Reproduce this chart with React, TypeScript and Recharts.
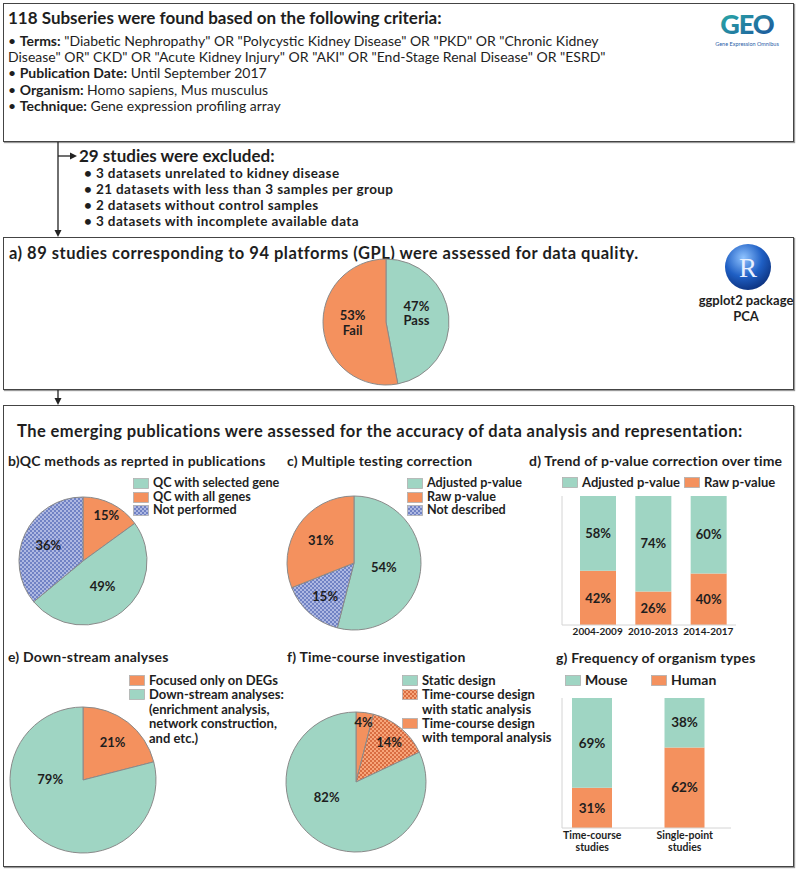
import React from 'react';
import { PieChart, Pie, Cell, BarChart, Bar, XAxis, YAxis, LabelList } from 'recharts';

const TEAL = '#9fd5c3';
const ORANGE = '#f4915e';
const INK = '#1e1e1e';
const FONT = 'Lato, "Open Sans", sans-serif';

// a) data quality
const qualityNames = ['Pass', 'Fail'];
const qualityValues = [47, 53];

// b) QC methods
const qcNames = ['QC with all genes', 'QC with selected gene', 'Not performed'];
const qcValues = [15, 49, 36];

// c) multiple testing correction
const mtNames = ['Adjusted p-value', 'Not described', 'Raw p-value'];
const mtValues = [54, 15, 31];

// d) trend over time
const periods = ['2004-2009', '2010-2013', '2014-2017'];
const adjustedShare = [58, 74, 60];
const rawShare = [42, 26, 40];

// e) down-stream analyses
const downNames = ['Focused only on DEGs', 'Down-stream analyses'];
const downValues = [21, 79];

// f) time-course
const timeNames = ['Time-course design with temporal analysis', 'Time-course design with static analysis', 'Static design'];
const timeValues = [4, 14, 82];

// g) organism types
const studyTypes = ['Time-course studies', 'Single-point studies'];
const humanShare = [31, 62];
const mouseShare = [69, 38];

const fillFor: Record<string, string> = {
  Pass: TEAL,
  Fail: ORANGE,
  'QC with all genes': ORANGE,
  'QC with selected gene': TEAL,
  'Not performed': 'url(#hatchBlue)',
  'Adjusted p-value': TEAL,
  'Not described': 'url(#hatchBlue)',
  'Raw p-value': ORANGE,
  'Focused only on DEGs': ORANGE,
  'Down-stream analyses': TEAL,
  'Time-course design with temporal analysis': ORANGE,
  'Time-course design with static analysis': 'url(#dotOrange)',
  'Static design': TEAL,
};

type Spot = { r: number; angle?: number };

const T = ({ x, y, size = 13, bold = false, center = false, ls = 0, children }: any) => (
  <div
    style={{
      position: 'absolute',
      left: x,
      top: y - size * 0.62,
      fontSize: size,
      lineHeight: `${size * 1.24}px`,
      fontWeight: bold ? 700 : 400,
      letterSpacing: ls,
      whiteSpace: 'nowrap',
      color: INK,
      transform: center ? 'translateX(-50%)' : undefined,
    }}
  >
    {children}
  </div>
);

const PieBlock = ({ cx, cy, radius, names, values, spots, size = 13, withName = false }: any) => {
  const box = radius * 2 + 8;
  const data = names.map((n: string, i: number) => ({ name: n, value: values[i] }));
  const renderLabel = (p: any) => {
    const s: Spot = spots[p.index];
    const ang = s.angle !== undefined ? 90 - s.angle : p.midAngle;
    const rad = Math.PI / 180;
    const lx = p.cx + p.outerRadius * s.r * Math.cos(-ang * rad);
    const ly = p.cy + p.outerRadius * s.r * Math.sin(-ang * rad);
    if (withName) {
      return (
        <text x={lx} y={ly} textAnchor="middle" fill={INK} fontSize={size} fontWeight={700} fontFamily={FONT}>
          <tspan x={lx} dy={-3}>{`${p.value}%`}</tspan>
          <tspan x={lx} dy={size + 1.5}>{p.name}</tspan>
        </text>
      );
    }
    return (
      <text x={lx} y={ly} textAnchor="middle" dominantBaseline="central" fill={INK} fontSize={size} fontWeight={700} fontFamily={FONT}>
        {`${p.value}%`}
      </text>
    );
  };
  return (
    <div style={{ position: 'absolute', left: cx - box / 2, top: cy - box / 2 }}>
      <PieChart width={box} height={box} margin={{ top: 0, right: 0, bottom: 0, left: 0 }}>
        <Pie
          data={data}
          dataKey="value"
          cx="50%"
          cy="50%"
          outerRadius={radius}
          startAngle={90}
          endAngle={-270}
          stroke="#8a8a8a"
          strokeWidth={1}
          labelLine={false}
          label={renderLabel}
          isAnimationActive={false}
        >
          {data.map((d: any) => (
            <Cell key={d.name} fill={fillFor[d.name]} />
          ))}
        </Pie>
      </PieChart>
    </div>
  );
};

const Swatch = ({ fill, w = 16, h = 11 }: any) => (
  <svg width={w} height={h} style={{ position: 'absolute', left: 0, top: 2 }}>
    <rect x={0.5} y={0.5} width={w - 1} height={h - 1} fill={fill} stroke="#b0b0b0" strokeWidth={0.8} />
  </svg>
);

const LegendRows = ({ x, y, rows, size = 13, gap = 14, indent = 20 }: any) => (
  <div style={{ position: 'absolute', left: x, top: y - gap / 2 }}>
    {rows.map((r: any, i: number) => (
      <div
        key={i}
        style={{
          position: 'relative',
          height: gap,
          lineHeight: `${gap}px`,
          fontSize: size,
          fontWeight: 700,
          paddingLeft: indent,
          whiteSpace: 'nowrap',
          color: INK,
        }}
      >
        {r.fill ? <Swatch fill={r.fill} /> : null}
        {r.text}
      </div>
    ))}
  </div>
);

const twoLineTick = (props: any) => {
  const { x, y, payload } = props;
  const parts = String(payload.value).split(' ');
  return (
    <g>
      <text x={x} y={y + 9} textAnchor="middle" fill={INK} fontSize={10.5} fontWeight={700} fontFamily={FONT}>
        {parts[0]}
      </text>
      <text x={x} y={y + 21} textAnchor="middle" fill={INK} fontSize={10.5} fontWeight={700} fontFamily={FONT}>
        {parts.slice(1).join(' ')}
      </text>
    </g>
  );
};

const trendRows = periods.map((p, i) => ({ period: p, raw: rawShare[i], adjusted: adjustedShare[i] }));
const organismRows = studyTypes.map((s, i) => ({ study: s, human: humanShare[i], mouse: mouseShare[i] }));
const pct = (v: any) => `${v}%`;

const boxStyle = (left: number, top: number, width: number, height: number): React.CSSProperties => ({
  position: 'absolute',
  left,
  top,
  width,
  height,
  border: '1.6px solid #444',
  boxShadow: '1px 1px 1px #999',
  boxSizing: 'border-box',
});

export default function App() {
  return (
    <div style={{ position: 'absolute', left: 0, top: 0, width: 800, height: 869, background: '#fff', fontFamily: FONT, color: INK, overflow: 'hidden' }}>
      <svg width={0} height={0} style={{ position: 'absolute' }}>
        <defs>
          <pattern id="hatchBlue" width={4} height={4} patternUnits="userSpaceOnUse">
            <rect width={4} height={4} fill="#7082c4" />
            <path d="M0,0 L4,4 M4,0 L0,4" stroke="#c8d0ef" strokeWidth={0.7} />
          </pattern>
          <pattern id="dotOrange" width={4} height={4} patternUnits="userSpaceOnUse">
            <rect width={4} height={4} fill="#f7a57a" />
            <circle cx={1} cy={1} r={1} fill="#cf5a2e" />
            <circle cx={3} cy={3} r={1} fill="#cf5a2e" />
          </pattern>
          <radialGradient id="rBall" cx="40%" cy="30%" r="75%">
            <stop offset="0%" stopColor="#8fc3ff" />
            <stop offset="55%" stopColor="#1f5fc4" />
            <stop offset="100%" stopColor="#0b2f7a" />
          </radialGradient>
          <linearGradient id="geoGrad" x1="0" y1="0" x2="1" y2="1">
            <stop offset="0%" stopColor="#2bb3a8" />
            <stop offset="100%" stopColor="#1c4f9c" />
          </linearGradient>
        </defs>
      </svg>

      {/* boxes */}
      <div style={boxStyle(3, 3, 791, 139)} />
      <div style={boxStyle(3, 237, 791, 153)} />
      <div style={boxStyle(3, 405, 791, 462)} />

      {/* connectors and logos */}
      <svg width={800} height={869} style={{ position: 'absolute', left: 0, top: 0 }}>
        <line x1={58} y1={142} x2={58} y2={231} stroke="#222" strokeWidth={1.3} />
        <path d="M54.5,230 L61.5,230 L58,237 Z" fill="#222" />
        <line x1={58} y1={156} x2={71} y2={156} stroke="#222" strokeWidth={1.3} />
        <path d="M70,152.5 L77,156 L70,159.5 Z" fill="#222" />
        <line x1={58} y1={390} x2={58} y2={399} stroke="#222" strokeWidth={1.3} />
        <path d="M54.5,398 L61.5,398 L58,405 Z" fill="#222" />
        <text x={747} y={34} textAnchor="middle" fontSize={27} fontWeight={900} fill="url(#geoGrad)" fontFamily={FONT} letterSpacing={-1}>
          GEO
        </text>
        <text x={747} y={46} textAnchor="middle" fontSize={5.5} fill="#2a5ea8" fontFamily={FONT}>
          Gene Expression Omnibus
        </text>
        <circle cx={748} cy={267} r={23} fill="url(#rBall)" />
        <text x={748} y={277} textAnchor="middle" fontSize={27} fill="#e8f0ff" fontFamily="'Liberation Serif', serif">
          R
        </text>
      </svg>

      {/* top box text */}
      <T x={8} y={18} size={17} bold>118 Subseries were found based on the following criteria:</T>
      <T x={8} y={41} size={14}>• <b>Terms:</b> "Diabetic Nephropathy" OR "Polycystic Kidney Disease" OR "PKD" OR "Chronic Kidney</T>
      <T x={8} y={57} size={14}>Disease" OR" CKD" OR "Acute Kidney Injury" OR "AKI" OR "End-Stage Renal Disease" OR "ESRD"</T>
      <T x={8} y={73} size={14}>• <b>Publication Date:</b> Until September 2017</T>
      <T x={8} y={90} size={14}>• <b>Organism:</b> Homo sapiens, Mus musculus</T>
      <T x={8} y={106} size={14}>• <b>Technique:</b> Gene expression profiling array</T>

      {/* exclusions */}
      <T x={79} y={156} size={17} bold>29 studies were excluded:</T>
      <T x={84} y={173} size={13.5} bold ls={0.4}>• 3 datasets unrelated to kidney disease</T>
      <T x={84} y={189} size={13.5} bold ls={0.4}>• 21 datasets with less than 3 samples per group</T>
      <T x={84} y={205} size={13.5} bold ls={0.4}>• 2 datasets without control samples</T>
      <T x={84} y={221} size={13.5} bold ls={0.4}>• 3 datasets with incomplete available data</T>

      {/* a) */}
      <T x={9} y={253} size={16.5} bold ls={0.5}>a) 89 studies corresponding to 94 platforms (GPL) were assessed for data quality.</T>
      <PieBlock cx={386} cy={322} radius={63} names={qualityNames} values={qualityValues} spots={[{ r: 0.5, angle: 75 }, { r: 0.53, angle: 268 }]} size={13} withName />
      <T x={746} y={300} size={13} bold center>ggplot2 package</T>
      <T x={746} y={316} size={13} bold center>PCA</T>

      {/* bottom box */}
      <T x={17} y={431} size={16.5} bold ls={0.42}>The emerging publications were assessed for the accuracy of data analysis and representation:</T>

      {/* b) */}
      <T x={8} y={461} size={14} bold ls={0.2}>b)QC methods as reprted in publications</T>
      <PieBlock cx={83} cy={561} radius={64} names={qcNames} values={qcValues} spots={[{ r: 0.8 }, { r: 0.5 }, { r: 0.6 }]} />
      <LegendRows
        x={133}
        y={483}
        size={12.6}
        rows={[
          { fill: fillFor['QC with selected gene'], text: 'QC with selected gene' },
          { fill: fillFor['QC with all genes'], text: 'QC with all genes' },
          { fill: fillFor['Not performed'], text: 'Not performed' },
        ]}
        gap={13.5}
      />

      {/* c) */}
      <T x={287} y={461} size={14} bold ls={0.2}>c) Multiple testing correction</T>
      <PieBlock cx={354} cy={563} radius={67} names={mtNames} values={mtValues} spots={[{ r: 0.45 }, { r: 0.65 }, { r: 0.6 }]} />
      <LegendRows
        x={407}
        y={483}
        size={12.6}
        rows={[
          { fill: fillFor['Adjusted p-value'], text: 'Adjusted p-value' },
          { fill: fillFor['Raw p-value'], text: 'Raw p-value' },
          { fill: fillFor['Not described'], text: 'Not described' },
        ]}
        gap={13.5}
      />

      {/* d) */}
      <T x={529} y={461} size={14} bold ls={0.2}>d) Trend of p-value correction over time</T>
      <LegendRows x={562} y={482} rows={[{ fill: TEAL, text: 'Adjusted p-value' }]} />
      <LegendRows x={684} y={482} rows={[{ fill: ORANGE, text: 'Raw p-value' }]} />
      <div style={{ position: 'absolute', left: 561, top: 496 }}>
        <BarChart width={175} height={146} data={trendRows} margin={{ top: 0, right: 0, bottom: 0, left: 0 }} barSize={36}>
          <XAxis
            dataKey="period"
            axisLine={{ stroke: '#d4d4d4' }}
            tickLine={false}
            tickSize={0}
            tickMargin={3}
            height={17}
            interval={0}
            padding={{ left: 8, right: 0 }}
            tick={{ fontSize: 10, fontWeight: 700, fill: INK, fontFamily: FONT }}
          />
          <YAxis domain={[0, 100]} width={1} tick={false} tickLine={false} axisLine={{ stroke: '#d4d4d4' }} />
          <Bar dataKey="raw" stackId="s" fill={ORANGE} isAnimationActive={false}>
            <LabelList dataKey="raw" position="center" formatter={pct} fill={INK} fontSize={13} fontWeight={700} fontFamily={FONT} />
          </Bar>
          <Bar dataKey="adjusted" stackId="s" fill={TEAL} isAnimationActive={false}>
            <LabelList dataKey="adjusted" position="center" formatter={pct} fill={INK} fontSize={13} fontWeight={700} fontFamily={FONT} />
          </Bar>
        </BarChart>
      </div>

      {/* e) */}
      <T x={8} y={657} size={14} bold ls={0.2}>e) Down-stream analyses</T>
      <PieBlock cx={83} cy={780} radius={73} names={downNames} values={downValues} spots={[{ r: 0.66 }, { r: 0.45, angle: 272 }]} />
      <LegendRows
        x={129}
        y={680}
        rows={[
          { fill: fillFor['Focused only on DEGs'], text: 'Focused only on DEGs' },
          { fill: fillFor['Down-stream analyses'], text: 'Down-stream analyses:' },
          { text: '(enrichment analysis,' },
          { text: 'network construction,' },
          { text: 'and etc.)' },
        ]}
        gap={14.5}
      />

      {/* f) */}
      <T x={287} y={657} size={14} bold ls={0.2}>f) Time-course investigation</T>
      <PieBlock cx={356} cy={782} radius={70} names={timeNames} values={timeValues} spots={[{ r: 0.86 }, { r: 0.74 }, { r: 0.47, angle: 243 }]} />
      <LegendRows
        x={402}
        y={680}
        rows={[
          { fill: fillFor['Static design'], text: 'Static design' },
          { fill: fillFor['Time-course design with static analysis'], text: 'Time-course design' },
          { text: 'with static analysis' },
          { fill: fillFor['Time-course design with temporal analysis'], text: 'Time-course design' },
          { text: 'with temporal analysis' },
        ]}
        gap={14.4}
      />

      {/* g) */}
      <T x={556} y={658} size={14} bold ls={0.2}>g) Frequency of organism types</T>
      <LegendRows x={565} y={680} rows={[{ fill: TEAL, text: 'Mouse' }]} size={14} />
      <LegendRows x={651} y={680} rows={[{ fill: ORANGE, text: 'Human' }]} size={14} />
      <div style={{ position: 'absolute', left: 561, top: 698 }}>
        <BarChart width={170} height={160} data={organismRows} margin={{ top: 0, right: 0, bottom: 0, left: 0 }} barSize={40}>
          <XAxis
            dataKey="study"
            axisLine={{ stroke: '#d4d4d4' }}
            tickLine={false}
            tickSize={0}
            tickMargin={2}
            height={30}
            interval={0}
            padding={{ left: -16, right: 0 }}
            tick={twoLineTick}
          />
          <YAxis domain={[0, 100]} width={1} tick={false} tickLine={false} axisLine={{ stroke: '#d4d4d4' }} />
          <Bar dataKey="human" stackId="s" fill={ORANGE} isAnimationActive={false}>
            <LabelList dataKey="human" position="center" formatter={pct} fill={INK} fontSize={13.5} fontWeight={700} fontFamily={FONT} />
          </Bar>
          <Bar dataKey="mouse" stackId="s" fill={TEAL} isAnimationActive={false}>
            <LabelList dataKey="mouse" position="center" formatter={pct} fill={INK} fontSize={13.5} fontWeight={700} fontFamily={FONT} />
          </Bar>
        </BarChart>
      </div>
    </div>
  );
}
